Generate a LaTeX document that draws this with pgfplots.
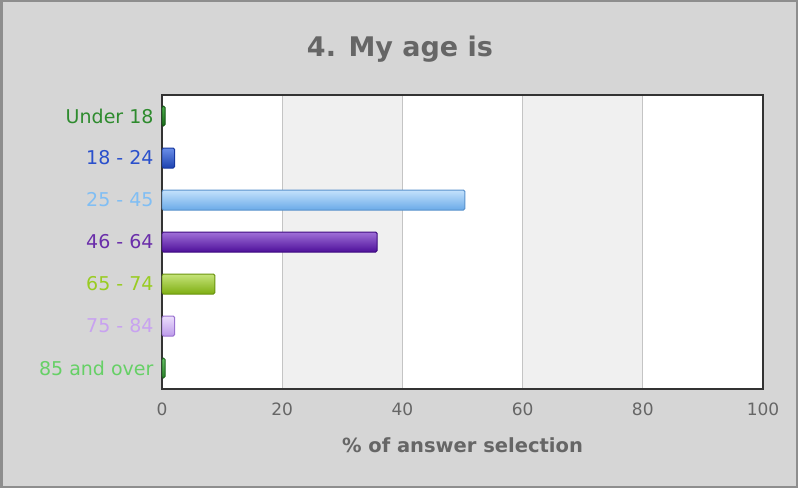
\documentclass[border=0pt]{standalone}
\usepackage{pgfplots}
\pgfplotsset{compat=1.18}
\usepackage{fontspec}
\setmainfont{DejaVu Sans}

% page and plot-area colours
\definecolor{outerbg}{HTML}{D6D6D6}
\definecolor{outerframe}{HTML}{8E8E8E}
\definecolor{bandgray}{HTML}{F0F0F0}
\definecolor{gridgray}{HTML}{C4C4C4}
\definecolor{framegray}{HTML}{333333}
\definecolor{textgray}{HTML}{666666}
% category colours (label, bar top, bar middle, bar bottom, bar border)
\definecolor{lA}{HTML}{2E8B2E}\definecolor{tA}{HTML}{4CAF4C}\definecolor{mA}{HTML}{26852A}\definecolor{bA}{HTML}{1A6A1A}\definecolor{dA}{HTML}{145A14}
\definecolor{lB}{HTML}{2A50CC}\definecolor{tB}{HTML}{6A8EE8}\definecolor{mB}{HTML}{2F5ED2}\definecolor{bB}{HTML}{1C42B0}\definecolor{dB}{HTML}{1838A0}
\definecolor{lC}{HTML}{80BEF4}\definecolor{tC}{HTML}{C4E2FC}\definecolor{mC}{HTML}{8CC4F4}\definecolor{bC}{HTML}{6AAAE8}\definecolor{dC}{HTML}{5A92CC}
\definecolor{lD}{HTML}{6A2EAA}\definecolor{tD}{HTML}{A070D8}\definecolor{mD}{HTML}{6A22BA}\definecolor{bD}{HTML}{4E109A}\definecolor{dD}{HTML}{3E0C80}
\definecolor{lE}{HTML}{99CC22}\definecolor{tE}{HTML}{C6E47A}\definecolor{mE}{HTML}{98C828}\definecolor{bE}{HTML}{7EAE12}\definecolor{dE}{HTML}{6A9410}
\definecolor{lF}{HTML}{C8A2F0}\definecolor{tF}{HTML}{ECDFFC}\definecolor{mF}{HTML}{D2B6F6}\definecolor{bF}{HTML}{BC9AEA}\definecolor{dF}{HTML}{9A72D0}
\definecolor{lG}{HTML}{66D066}\definecolor{tG}{HTML}{66C066}\definecolor{mG}{HTML}{3A9A3A}\definecolor{bG}{HTML}{2A802A}\definecolor{dG}{HTML}{1E6A1E}

\pgfplotsset{
  agebar/.style n args={4}{
    xbar, bar width=20pt, bar shift=0pt,
    draw=#4, line width=1pt, rounded corners=1.5pt,
    top color=#1, middle color=#2, bottom color=#3,
  },
}

\begin{document}
\begin{tikzpicture}[x=1pt,y=1pt]
  % panel background and border
  \fill[outerbg] (0,0) rectangle (798,488);
  \draw[outerframe, line width=2.5pt] (1.25,1.25) rectangle (796.75,486.75);
  % plot area: white, with shaded bands over 20-40 and 60-80
  \fill[white] (162,99) rectangle (763,393);
  \fill[bandgray] (282.2,99) rectangle (402.4,393);
  \fill[bandgray] (522.6,99) rectangle (642.8,393);
  % chart title, centred on the panel
  \node[font=\fontsize{27}{32}\selectfont\bfseries, text=textgray] at (400,439) {4. My age is};

  \begin{axis}[
    at={(162pt,99pt)}, anchor=south west,
    scale only axis, width=601pt, height=294pt,
    xmin=0, xmax=100, ymin=-0.5, ymax=6.5,
    y dir=reverse,
    xtick={0,20,...,100},
    ytick={0,...,6},
    yticklabels={
      \textcolor{lA}{Under 18},
      \textcolor{lB}{18 - 24},
      \textcolor{lC}{25 - 45},
      \textcolor{lD}{46 - 64},
      \textcolor{lE}{65 - 74},
      \textcolor{lF}{75 - 84},
      \textcolor{lG}{85 and over}},
    major tick length=0pt,
    xmajorgrids,
    major grid style={draw=gridgray, line width=1pt},
    axis line style={draw=framegray, line width=1.5pt},
    /pgf/number format/assume math mode=true,
    xticklabel style={font=\fontsize{17}{19}\selectfont, text=textgray, yshift=-10pt},
    yticklabel style={font=\fontsize{19}{22}\selectfont, xshift=-5pt},
    xlabel={\textbf{\% of answer selection}},
    xlabel style={font=\fontsize{19.5}{22}\selectfont, text=textgray, yshift=-15pt},
  ]
    \addplot[agebar={tA}{mA}{bA}{dA}] coordinates {(0.5,0)};
    \addplot[agebar={tB}{mB}{bB}{dB}] coordinates {(2.1,1)};
    \addplot[agebar={tC}{mC}{bC}{dC}] coordinates {(50.4,2)};
    \addplot[agebar={tD}{mD}{bD}{dD}] coordinates {(35.8,3)};
    \addplot[agebar={tE}{mE}{bE}{dE}] coordinates {(8.8,4)};
    \addplot[agebar={tF}{mF}{bF}{dF}] coordinates {(2.1,5)};
    \addplot[agebar={tG}{mG}{bG}{dG}] coordinates {(0.5,6)};
  \end{axis}
\end{tikzpicture}
\end{document}
